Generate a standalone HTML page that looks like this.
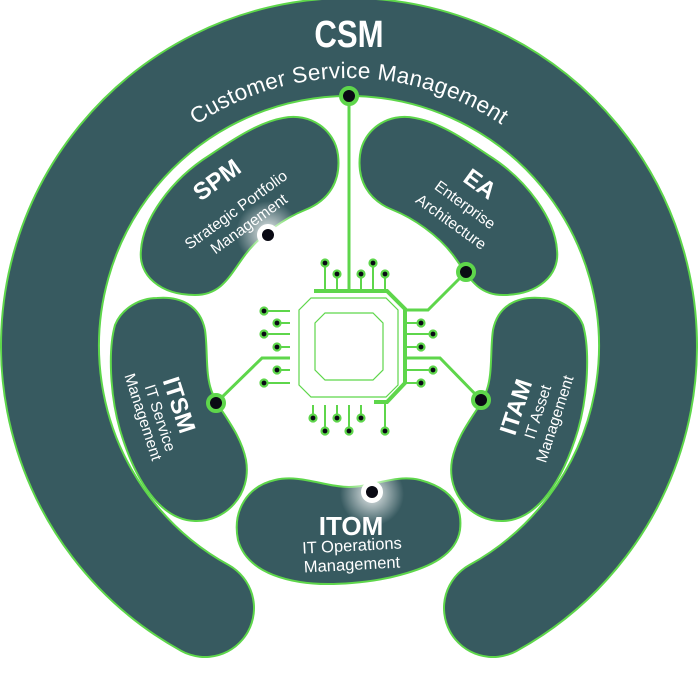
<!DOCTYPE html>
<html><head><meta charset="utf-8"><style>
html,body{margin:0;padding:0;background:#fff;}
svg{display:block;}
text{font-family:"Liberation Sans",sans-serif;fill:#fff;}
.b{font-weight:bold;}
</style></head><body>
<svg width="698" height="697" viewBox="0 0 698 697" xmlns="http://www.w3.org/2000/svg">
<defs>
<radialGradient id="gl"><stop offset="0" stop-color="#fff" stop-opacity="0.9"/><stop offset="0.45" stop-color="#fff" stop-opacity="0.5"/><stop offset="1" stop-color="#fff" stop-opacity="0"/></radialGradient>
<path id="tp" d="M 77,350 A 272,272 0 0 1 621,350"/>
</defs>
<path d="M 205,608 A 299,299 0 1 1 493,608" fill="none" stroke="#5ed64b" stroke-width="100" stroke-linecap="round"/>
<path d="M 205,608 A 299,299 0 1 1 493,608" fill="none" stroke="#375a60" stroke-width="96" stroke-linecap="round"/>
<text x="349" y="47" text-anchor="middle" class="b" font-size="38" transform="translate(349 0) scale(0.82 1) translate(-349 0)">CSM</text>
<text font-size="22.5" letter-spacing="0.3"><textPath href="#tp" startOffset="50%" text-anchor="middle">Customer Service Management</textPath></text>

<g fill="#375a60" stroke="#5ed64b" stroke-width="2">
<path d="M 283,118 C 310,112 335,130 338,155 C 341,180 330,200 305,210 C 285,218 260,235 245,255 C 230,275 222,295 195,295 C 160,295 138,275 141,250 C 143,220 170,180 210,155 C 235,138 260,122 283,118 Z"/>
<path transform="translate(698 0) scale(-1 1)" d="M 283,118 C 310,112 335,130 338,155 C 341,180 330,200 305,210 C 285,218 260,235 245,255 C 230,275 222,295 195,295 C 160,295 138,275 141,250 C 143,220 170,180 210,155 C 235,138 260,122 283,118 Z"/>
<path d="M 157,298 C 180,296 200,305 205,330 C 208,350 205,375 212,392 C 218,410 240,430 246,460 C 252,495 225,522 195,521 C 160,520 135,480 120,430 C 110,395 108,350 115,325 C 122,308 140,298 157,298 Z"/>
<path transform="translate(698 0) scale(-1 1)" d="M 157,298 C 180,296 200,305 205,330 C 208,350 205,375 212,392 C 218,410 240,430 246,460 C 252,495 225,522 195,521 C 160,520 135,480 120,430 C 110,395 108,350 115,325 C 122,308 140,298 157,298 Z"/>
<path d="M 275,480 C 300,474 325,487 349,487 C 373,487 395,474 420,480 C 450,488 463,505 460,530 C 456,555 430,567 400,575 C 375,582 330,587 300,582 C 270,577 245,565 238,540 C 232,510 248,486 275,480 Z"/>
</g>

<circle cx="268" cy="233" r="32" fill="url(#gl)"/>
<circle cx="372" cy="494" r="32" fill="url(#gl)"/>

<g fill="none" stroke="#5ed64b">
<polygon points="311,298 386,298 398,310 398,385 386,397 311,397 299,385 299,310" stroke-width="1.2"/>
<polygon points="325,313 373,313 383,323 383,370 373,380 325,380 315,370 315,323" stroke-width="1.2"/>
<polyline points="314,291 387,291 405,309 405,383 387,402 374,402" stroke-width="4"/>
<line x1="349" y1="96" x2="349" y2="291" stroke-width="3"/>
<g stroke-width="2">
<line x1="325" y1="263" x2="325" y2="291"/><line x1="337" y1="274" x2="337" y2="291"/>
<line x1="361" y1="274" x2="361" y2="291"/><line x1="373" y1="263" x2="373" y2="291"/>
<line x1="385" y1="274" x2="385" y2="291"/>
<line x1="264" y1="311" x2="290" y2="311"/><line x1="277" y1="323" x2="290" y2="323"/>
<line x1="264" y1="334" x2="290" y2="334"/><line x1="277" y1="347" x2="290" y2="347"/>
<line x1="277" y1="370" x2="290" y2="370"/><line x1="264" y1="383" x2="290" y2="383"/>
<line x1="405" y1="323" x2="421" y2="323"/><line x1="405" y1="334" x2="433" y2="334"/>
<line x1="405" y1="347" x2="421" y2="347"/><line x1="405" y1="370" x2="433" y2="370"/>
<line x1="405" y1="383" x2="421" y2="383"/>
<line x1="313" y1="405" x2="313" y2="418"/><line x1="325" y1="405" x2="325" y2="431"/>
<line x1="337" y1="405" x2="337" y2="418"/><line x1="349" y1="405" x2="349" y2="431"/>
<line x1="361" y1="405" x2="361" y2="418"/><line x1="385" y1="402" x2="385" y2="431"/>
</g>
<polyline points="290,358 262,358 216,403" stroke-width="3"/>
<polyline points="405,310 428,310 466,272" stroke-width="3"/>
<polyline points="405,358 440,358 481,400" stroke-width="3"/>
</g>
<g fill="#0a0a14" stroke="#5ed64b" stroke-width="2.2">
<circle cx="325" cy="263" r="3.5"/><circle cx="337" cy="274" r="3.5"/><circle cx="361" cy="274" r="3.5"/><circle cx="373" cy="263" r="3.5"/><circle cx="385" cy="274" r="3.5"/>
<circle cx="264" cy="311" r="3.5"/><circle cx="277" cy="323" r="3.5"/><circle cx="264" cy="334" r="3.5"/><circle cx="277" cy="347" r="3.5"/><circle cx="277" cy="370" r="3.5"/><circle cx="264" cy="383" r="3.5"/>
<circle cx="421" cy="323" r="3.5"/><circle cx="433" cy="334" r="3.5"/><circle cx="421" cy="347" r="3.5"/><circle cx="433" cy="370" r="3.5"/><circle cx="421" cy="383" r="3.5"/>
<circle cx="313" cy="418" r="3.5"/><circle cx="325" cy="431" r="3.5"/><circle cx="337" cy="418" r="3.5"/><circle cx="349" cy="431" r="3.5"/><circle cx="361" cy="418" r="3.5"/><circle cx="385" cy="431" r="3.5"/>
</g>
<g fill="#0a0a14" stroke="#5ed64b" stroke-width="4">
<circle cx="349" cy="96" r="8"/><circle cx="466" cy="272" r="8"/><circle cx="216" cy="403" r="8"/><circle cx="481" cy="400" r="8"/>
</g>
<g fill="#0a0a14" stroke="#fff" stroke-width="5">
<circle cx="268" cy="235" r="8.5"/><circle cx="372" cy="492" r="8.5"/>
</g>

<g transform="translate(217 180) rotate(-36)"><text class="b" font-size="24" text-anchor="middle" y="8">SPM</text></g>
<g transform="translate(236 210) rotate(-36)"><text font-size="15.5" text-anchor="middle" y="5">Strategic Portfolio</text></g>
<g transform="translate(249 224) rotate(-36)"><text font-size="15.5" text-anchor="middle" y="5">Management</text></g>

<g transform="translate(480 184) rotate(36)"><text class="b" font-size="24" text-anchor="middle" y="8">EA</text></g>
<g transform="translate(465 205) rotate(36)"><text font-size="15.5" text-anchor="middle" y="5">Enterprise</text></g>
<g transform="translate(451 222) rotate(36)"><text font-size="15.5" text-anchor="middle" y="5">Architecture</text></g>

<g transform="translate(179 405) rotate(72)"><text class="b" font-size="24" text-anchor="middle" y="8">ITSM</text></g>
<g transform="translate(160 418) rotate(72)"><text font-size="15.5" text-anchor="middle" y="5">IT Service</text></g>
<g transform="translate(143 417) rotate(72)"><text font-size="15.5" text-anchor="middle" y="5">Management</text></g>

<g transform="translate(516 407) rotate(-72)"><text class="b" font-size="24" text-anchor="middle" y="8">ITAM</text></g>
<g transform="translate(538 412) rotate(-72)"><text font-size="15.5" text-anchor="middle" y="5">IT Asset</text></g>
<g transform="translate(555 419) rotate(-72)"><text font-size="15.5" text-anchor="middle" y="5">Management</text></g>

<text x="351" y="535" class="b" font-size="26" text-anchor="middle">ITOM</text>
<g transform="translate(352 546) rotate(-3)"><text font-size="16.5" text-anchor="middle" y="5">IT Operations</text></g>
<g transform="translate(352 565) rotate(-3)"><text font-size="16.5" text-anchor="middle" y="5">Management</text></g>
</svg>
</body></html>
